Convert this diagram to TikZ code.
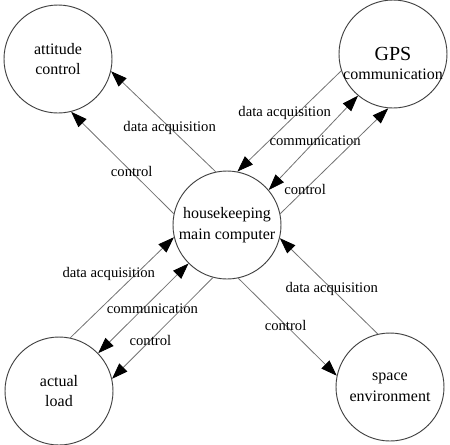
\documentclass[tikz,border=0pt]{standalone}
\usepackage{fontspec}
\setmainfont{Liberation Serif}
\usetikzlibrary{arrows.meta}

\begin{document}
\begin{tikzpicture}[x=0.75pt,y=-0.75pt,
    >={Triangle[length=12pt,width=8.5pt,black]},
    unit/.style={circle,draw=black!75,line width=0.7pt,minimum size=81pt,inner sep=0pt,
      align=center,font=\fontsize{12}{15.5}\selectfont},
    flow/.style={draw=black!55,line width=0.6pt},
    lbl/.style={font=\fontsize{11}{13}\selectfont,inner sep=1pt}]
\useasboundingbox (0,0) rectangle (450,444);
\node[unit] (att) at (58,59) {attitude\\control};
\node[unit] (gps) at (393,54) {};
\node[font=\fontsize{15}{17}\selectfont] (gpsname) at (gps.center) {GPS};
\node[font=\fontsize{12}{14}\selectfont] (gpscomm) at ([yshift=-15pt]gps.center) {communication};
\node[unit] (hk) at (227,225) {housekeeping\\main computer};
\node[unit] (load) at (59,391) {actual\\load};
\node[unit] (env) at (390,387) {space\\environment};
% attitude control
\draw[flow,->] (hk.102) -- (att.-13) node[lbl,pos=0.44]{data acquisition};
\draw[flow,->] (hk.168) -- (att.-76) node[lbl,pos=0.41]{control};
% GPS
\draw[flow,->] (gps.198) -- (hk.79) node[lbl,pos=0.48,xshift=-5pt,yshift=5pt]{data acquisition};
\draw[flow,<->] (hk.40) -- (gps.230) node[lbl,pos=0.52]{communication};
\draw[flow,->] (hk.12) -- (gps.265) node[lbl,pos=0.23]{control};
% actual load
\draw[flow,->] (load.78) -- (hk.193) node[lbl,pos=0.5,xshift=-10pt,yshift=10pt]{data acquisition};
\draw[flow,<->] (hk.225) -- (load.44) node[lbl,pos=0.45,xshift=3.4pt,yshift=-3.4pt]{communication};
\draw[flow,->] (hk.255) -- (load.13) node[lbl,pos=0.62]{control};
% space environment
\draw[flow,->] (hk.282) -- (env.168) node[lbl,pos=0.48]{control};
\draw[flow,->] (env.103) -- (hk.-14) node[lbl,pos=0.47]{data acquisition};
\end{tikzpicture}
\end{document}
